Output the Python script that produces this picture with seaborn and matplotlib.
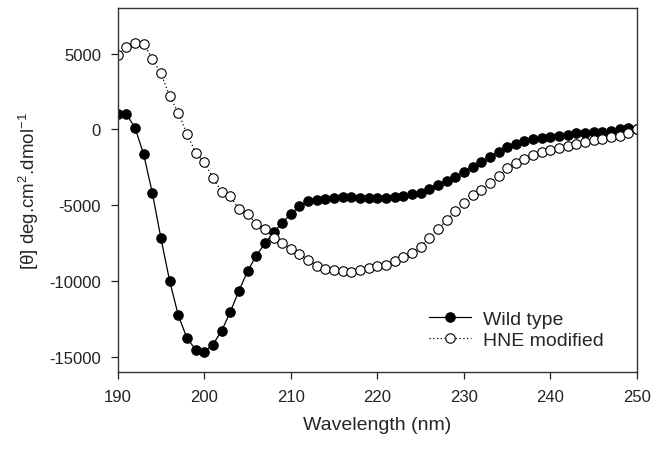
# CD spectra: wild type vs HNE modified
import matplotlib
matplotlib.use("Agg")
import matplotlib.pyplot as plt
import numpy as np
import pandas as pd
import seaborn as sns

# Data
wavelength = list(range(190, 251))
wild_type = [1000, 1000, 100, -1650, -4200, -7200, -10000, -12270, -13770, -14530,
             -14660, -14200, -13300, -12050, -10660, -9360, -8340, -7530, -6800, -6170,
             -5580, -5080, -4750, -4640, -4590, -4530, -4460, -4460, -4500, -4550,
             -4530, -4500, -4440, -4400, -4280, -4170, -3910, -3640, -3420, -3140,
             -2800, -2470, -2160, -1810, -1500, -1190, -950, -770, -640, -550,
             -480, -420, -350, -260, -240, -200, -150, -90, 0, 70, 50]
hne_modified = [4920, 5450, 5720, 5650, 4640, 3690, 2190, 1080, -290, -1540,
                -2180, -3190, -4150, -4420, -5250, -5580, -6230, -6570, -7170, -7490,
                -7900, -8200, -8610, -8990, -9210, -9290, -9360, -9380, -9290, -9160,
                -9030, -8920, -8660, -8430, -8130, -7730, -7170, -6600, -5980, -5410,
                -4880, -4360, -3970, -3530, -3050, -2560, -2210, -1940, -1680, -1520,
                -1370, -1240, -1110, -950, -810, -710, -620, -530, -420, -250, 0]
series_names = ["Wild type", "HNE modified"]

df = pd.DataFrame({"wl": wavelength, "wt": wild_type, "hne": hne_modified})

sns.set_style("ticks")
plt.rcParams["font.family"] = ["Liberation Sans", "DejaVu Sans"]
plt.rcParams["axes.unicode_minus"] = False
plt.rcParams["mathtext.default"] = "regular"

fig = plt.figure(figsize=(6.54, 4.52), dpi=100)
ax = fig.add_axes([0.180, 0.175, 0.794, 0.805])

sns.lineplot(data=df, x="wl", y="wt", ax=ax, color="black", linewidth=0.9,
             marker="o", markersize=6.8, markerfacecolor="black",
             markeredgecolor="black", markeredgewidth=0.8, label=series_names[0])
sns.lineplot(data=df, x="wl", y="hne", ax=ax, color="black", linewidth=0.9,
             linestyle=(0, (1, 2)), marker="o", markersize=6.8,
             markerfacecolor="white", markeredgecolor="black",
             markeredgewidth=0.8, label=series_names[1])

ax.set_xlim(190, 250)
ax.set_ylim(-16000, 8000)
ax.set_xticks(range(190, 251, 10))
ax.set_yticks([-15000, -10000, -5000, 0, 5000])
ax.set_xlabel("Wavelength (nm)", fontsize=14, labelpad=9)
ax.set_ylabel("[θ] deg.cm$^{2}$.dmol$^{-1}$", fontsize=13.5, labelpad=6)
ax.tick_params(direction="out", length=5, width=0.9, labelsize=12, pad=7,
               colors="#222222")
for s in ax.spines.values():
    s.set_linewidth(1.0)
    s.set_color("#333333")
    s.set_clip_on(False)

leg = ax.legend(loc="upper left", frameon=False, fontsize=14, borderpad=0,
                handlelength=2.2, handletextpad=0.6, labelspacing=0.2,
                bbox_to_anchor=(0.58, 0.197))

fig.savefig("out.png", dpi=100)
